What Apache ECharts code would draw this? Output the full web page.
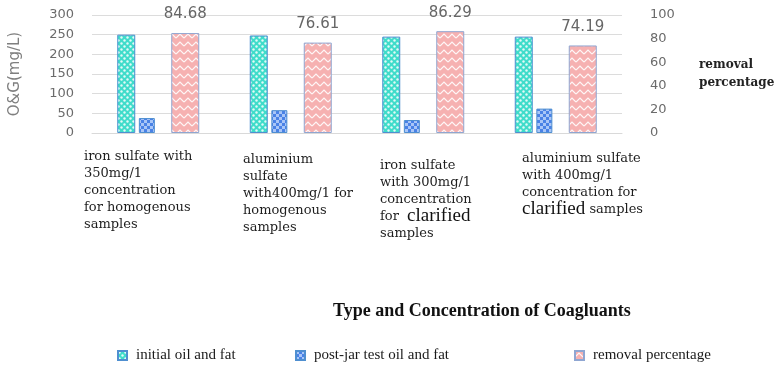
<!DOCTYPE html>
<html><head><meta charset="utf-8">
<script src="https://cdn.jsdelivr.net/npm/echarts@6/dist/echarts.min.js"></script>
<style>html,body{margin:0;padding:0;background:#fff}#c{width:782px;height:370px}</style>
</head><body><div id="c"></div>
<script>
// ---- data ----
const categories = [
  'iron sulfate with\n350mg/1\nconcentration\nfor homogenous\nsamples',
  'aluminium\nsulfate\nwith400mg/1 for\nhomogenous\nsamples',
  'iron sulfate\nwith 300mg/1\nconcentration\nfor  clarified\nsamples',
  'aluminium sulfate\nwith 400mg/1\nconcentration for\nclarified samples'
];
const seriesNames = ['initial oil and fat', 'post-jar test oil and fat', 'removal percentage'];
const initialOilFat = [250, 248, 245, 245];
const postJarOilFat = [38, 58, 33, 62];
const removalPercentage = [84.68, 76.61, 86.29, 74.19];
const leftAxisName = 'O&G(mg/L)';
const rightAxisName = 'removal\npercentage';
const xAxisTitle = 'Type and Concentration of Coagluants';

// ---- patterns (style only) ----
function makePattern(w, h, draw) {
  const c = document.createElement('canvas');
  c.width = w; c.height = h;
  draw(c.getContext('2d'));
  return { image: c, repeat: 'repeat' };
}
const dotPattern = makePattern(6, 6, g => {
  g.fillStyle = '#3fdcca'; g.fillRect(0, 0, 6, 6);
  g.fillStyle = 'rgba(255,255,255,0.85)';
  g.beginPath(); g.arc(1.5, 1.5, 1.2, 0, Math.PI * 2); g.fill();
  g.beginPath(); g.arc(4.5, 4.5, 1.2, 0, Math.PI * 2); g.fill();
});
const checkPattern = makePattern(6, 6, g => {
  g.fillStyle = '#4a82e6'; g.fillRect(0, 0, 6, 6);
  g.fillStyle = '#a9c6f7';
  g.fillRect(0, 0, 3, 3); g.fillRect(3, 3, 3, 3);
});
const zigPattern = makePattern(8, 8, g => {
  g.fillStyle = '#f6b1b1'; g.fillRect(0, 0, 8, 8);
  g.strokeStyle = 'rgba(255,255,255,0.9)'; g.lineWidth = 1.2;
  g.beginPath(); g.moveTo(0, 6); g.lineTo(4, 2); g.lineTo(8, 6); g.stroke();
});

const chart = echarts.init(document.getElementById('c'), null, { renderer: 'canvas' });

const labelX = [84, 243, 380, 522];
const labelY = [148, 151, 157, 150];
const catGraphics = categories.map((t, i) => ({
  type: 'text', left: labelX[i], top: labelY[i], silent: true,
  style: {
    text: t.replace('clarified', '{c|clarified}'),
    font: '13px "DejaVu Serif"', fill: '#1e1e1e', lineHeight: 17,
    rich: { c: { fontFamily: 'Liberation Serif', fontSize: 19, lineHeight: 17, fill: '#111' } }
  }
}));

chart.setOption({
  animation: false,
  backgroundColor: '#fff',
  grid: { left: 91, right: 160, top: 15, bottom: 237, containLabel: false },
  xAxis: {
    type: 'category', data: categories,
    axisLine: { show: true, lineStyle: { color: '#d9d9d9' } },
    axisTick: { show: false }, axisLabel: { show: false }
  },
  yAxis: [
    {
      type: 'value', min: 0, max: 300, interval: 50,
      name: leftAxisName, nameLocation: 'middle', nameGap: 69,
      nameTextStyle: { color: '#7f7f7f', fontSize: 15, fontFamily: 'DejaVu Sans' },
      axisLine: { show: false }, axisTick: { show: false },
      axisLabel: { color: '#6b6b6b', fontSize: 13, fontFamily: 'DejaVu Sans', margin: 18 },
      splitLine: { lineStyle: { color: '#dcdcdc' } }
    },
    {
      type: 'value', min: 0, max: 100, interval: 20, position: 'right',
      name: rightAxisName, nameLocation: 'middle', nameRotate: 0, nameGap: 77,
      nameTextStyle: { color: '#222', fontSize: 12, fontFamily: 'DejaVu Serif', fontWeight: 'bold', lineHeight: 18, align: 'left' },
      axisLine: { show: false }, axisTick: { show: false },
      axisLabel: { color: '#6b6b6b', fontSize: 13, fontFamily: 'DejaVu Sans', margin: 28 },
      splitLine: { show: false }
    }
  ],
  legend: [
    { data: [seriesNames[0]], left: 112, top: 343 },
    { data: [seriesNames[1]], left: 290, top: 343 },
    { data: [seriesNames[2]], left: 569, top: 343 }
  ].map(l => Object.assign(l, {
    icon: 'rect', itemWidth: 9, itemHeight: 9, itemGap: 10,
    textStyle: { color: '#1a1a1a', fontSize: 15, fontFamily: 'Liberation Serif', padding: [0, 0, 0, 4] }
  })),
  graphic: [
    ...catGraphics,
    { type: 'text', left: 333, top: 302, silent: true,
      style: { text: xAxisTitle, font: 'bold 18px "Liberation Serif"', fill: '#111' } }
  ],
  series: [
    { name: seriesNames[0], type: 'bar', yAxisIndex: 0, data: initialOilFat, barWidth: 18, barGap: '20%',
      itemStyle: { color: dotPattern, borderColor: '#4f8fd0', borderWidth: 1 } },
    { name: seriesNames[1], type: 'bar', yAxisIndex: 0, data: postJarOilFat, barWidth: 16, barGap: '20%',
      itemStyle: { color: checkPattern, borderColor: '#4f8fd0', borderWidth: 1 } },
    { name: 'spacer', type: 'bar', yAxisIndex: 0, data: [], barWidth: 11, barGap: '20%', silent: true },
    { name: seriesNames[2], type: 'bar', yAxisIndex: 1, data: removalPercentage, barWidth: 28, barGap: '20%',
      itemStyle: { color: zigPattern, borderColor: '#8fa6d2', borderWidth: 1 },
      label: { show: true, position: 'top', distance: 11, color: '#666', fontSize: 15, fontFamily: 'DejaVu Sans' } }
  ]
});
</script></body></html>
